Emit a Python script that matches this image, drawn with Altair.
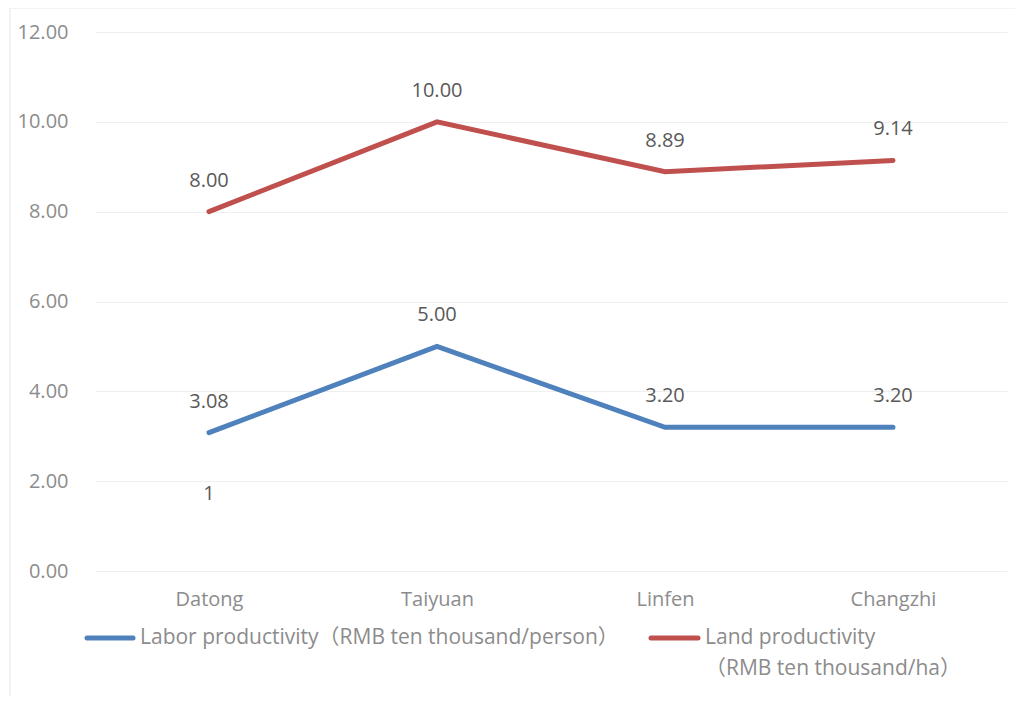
import altair as alt
import pandas as pd

cities = ["Datong", "Taiyuan", "Linfen", "Changzhi"]
labor = [3.08, 5.00, 3.20, 3.20]
land = [8.00, 10.00, 8.89, 9.14]
labor_name = "Labor productivity（RMB ten thousand/person）"
land_name_lines = ["Land productivity", "（RMB ten thousand/ha）"]
land_name = "".join(land_name_lines)
y_ticks = [0, 2, 4, 6, 8, 10, 12]
colors = ["#4f81bd", "#c0504d"]

# stray label in the original picture
stray_city = ["Datong"]
stray_value = [1.72]
stray_text = ["1"]

rows = []
for c, v in zip(cities, labor):
    rows.append({"city": c, "value": v, "series": labor_name})
for c, v in zip(cities, land):
    rows.append({"city": c, "value": v, "series": land_name})
df = pd.DataFrame(rows)
stray = pd.DataFrame({"city": stray_city, "value": stray_value, "text": stray_text})

FONT = "Open Sans"
LFONT = "Open Sans, Noto Sans CJK SC"
FS = 20
LFS = 21
AXC = "#8c8c8c"
LBC = "#595959"

x = alt.X("city:N", sort=cities, title=None,
          axis=alt.Axis(labelAngle=0, labelFontSize=FS, labelColor=AXC, grid=False,
                        labelFont=FONT, ticks=False, domain=False, labelPadding=18))
y = alt.Y("value:Q", title=None, scale=alt.Scale(domain=[0, 12], nice=False),
          axis=alt.Axis(values=y_ticks, format=".2f", labelFontSize=FS, labelColor=AXC,
                        labelFont=FONT, ticks=False, domain=False, labelPadding=27,
                        gridColor="#efefef", gridWidth=1))

color = alt.Color("series:N", sort=[labor_name, land_name],
                  scale=alt.Scale(domain=[labor_name, land_name], range=colors),
                  legend=None)

lines = alt.Chart(df).mark_line(strokeWidth=5, strokeCap="round").encode(x=x, y=y, color=color)
labels = alt.Chart(df).mark_text(fontSize=FS, color=LBC, font=FONT, dy=-31).encode(
    x=x, y=y, text=alt.Text("value:Q", format=".2f"))
stray_mark = alt.Chart(stray).mark_text(fontSize=FS, color=LBC, font=FONT).encode(
    x=x, y=y, text="text:N")

# manual legend (layout only)
leg_df = pd.DataFrame({"series": [labor_name, land_name]})
base_leg = alt.Chart(leg_df)
leg_sym1 = base_leg.transform_filter(alt.datum.series == labor_name).mark_rule(
    strokeWidth=5, strokeCap="round", color=colors[0]).encode(
    x=alt.value(-8), x2=alt.value(38), y=alt.value(606))
leg_sym2 = base_leg.transform_filter(alt.datum.series == land_name).mark_rule(
    strokeWidth=5, strokeCap="round", color=colors[1]).encode(
    x=alt.value(556), x2=alt.value(603), y=alt.value(606))
leg_txt1 = base_leg.transform_filter(alt.datum.series == labor_name).mark_text(
    fontSize=LFS, color=AXC, font=LFONT, align="left", baseline="middle").encode(
    x=alt.value(45), y=alt.value(606), text="series:N")
leg_txt2 = alt.Chart(pd.DataFrame({"t": [land_name_lines[0]]})).mark_text(
    fontSize=LFS, color=AXC, font=LFONT, align="left", baseline="middle").encode(
    x=alt.value(610), y=alt.value(606), text="t:N")
leg_txt3 = alt.Chart(pd.DataFrame({"t": [land_name_lines[1]]})).mark_text(
    fontSize=LFS, color=AXC, font=LFONT, align="left", baseline="middle").encode(
    x=alt.value(610), y=alt.value(637), text="t:N")

border = base_leg.transform_filter(alt.datum.series == labor_name).mark_rect(
    fill=None, stroke="#efefef", strokeWidth=1.5).encode(
    x=alt.value(-85), x2=alt.value(960), y=alt.value(-24), y2=alt.value(700))

chart = alt.layer(border, lines, labels, stray_mark, leg_sym1, leg_sym2,
                  leg_txt1, leg_txt2, leg_txt3).properties(
    width=912, height=539,
    autosize=alt.AutoSizeParams(type="none"),
    padding={"left": 87, "top": 24, "right": 8, "bottom": 125},
).configure(background="white").configure_view(stroke=None)

chart.save("out.html", embed_options={"renderer": "svg", "actions": False})
